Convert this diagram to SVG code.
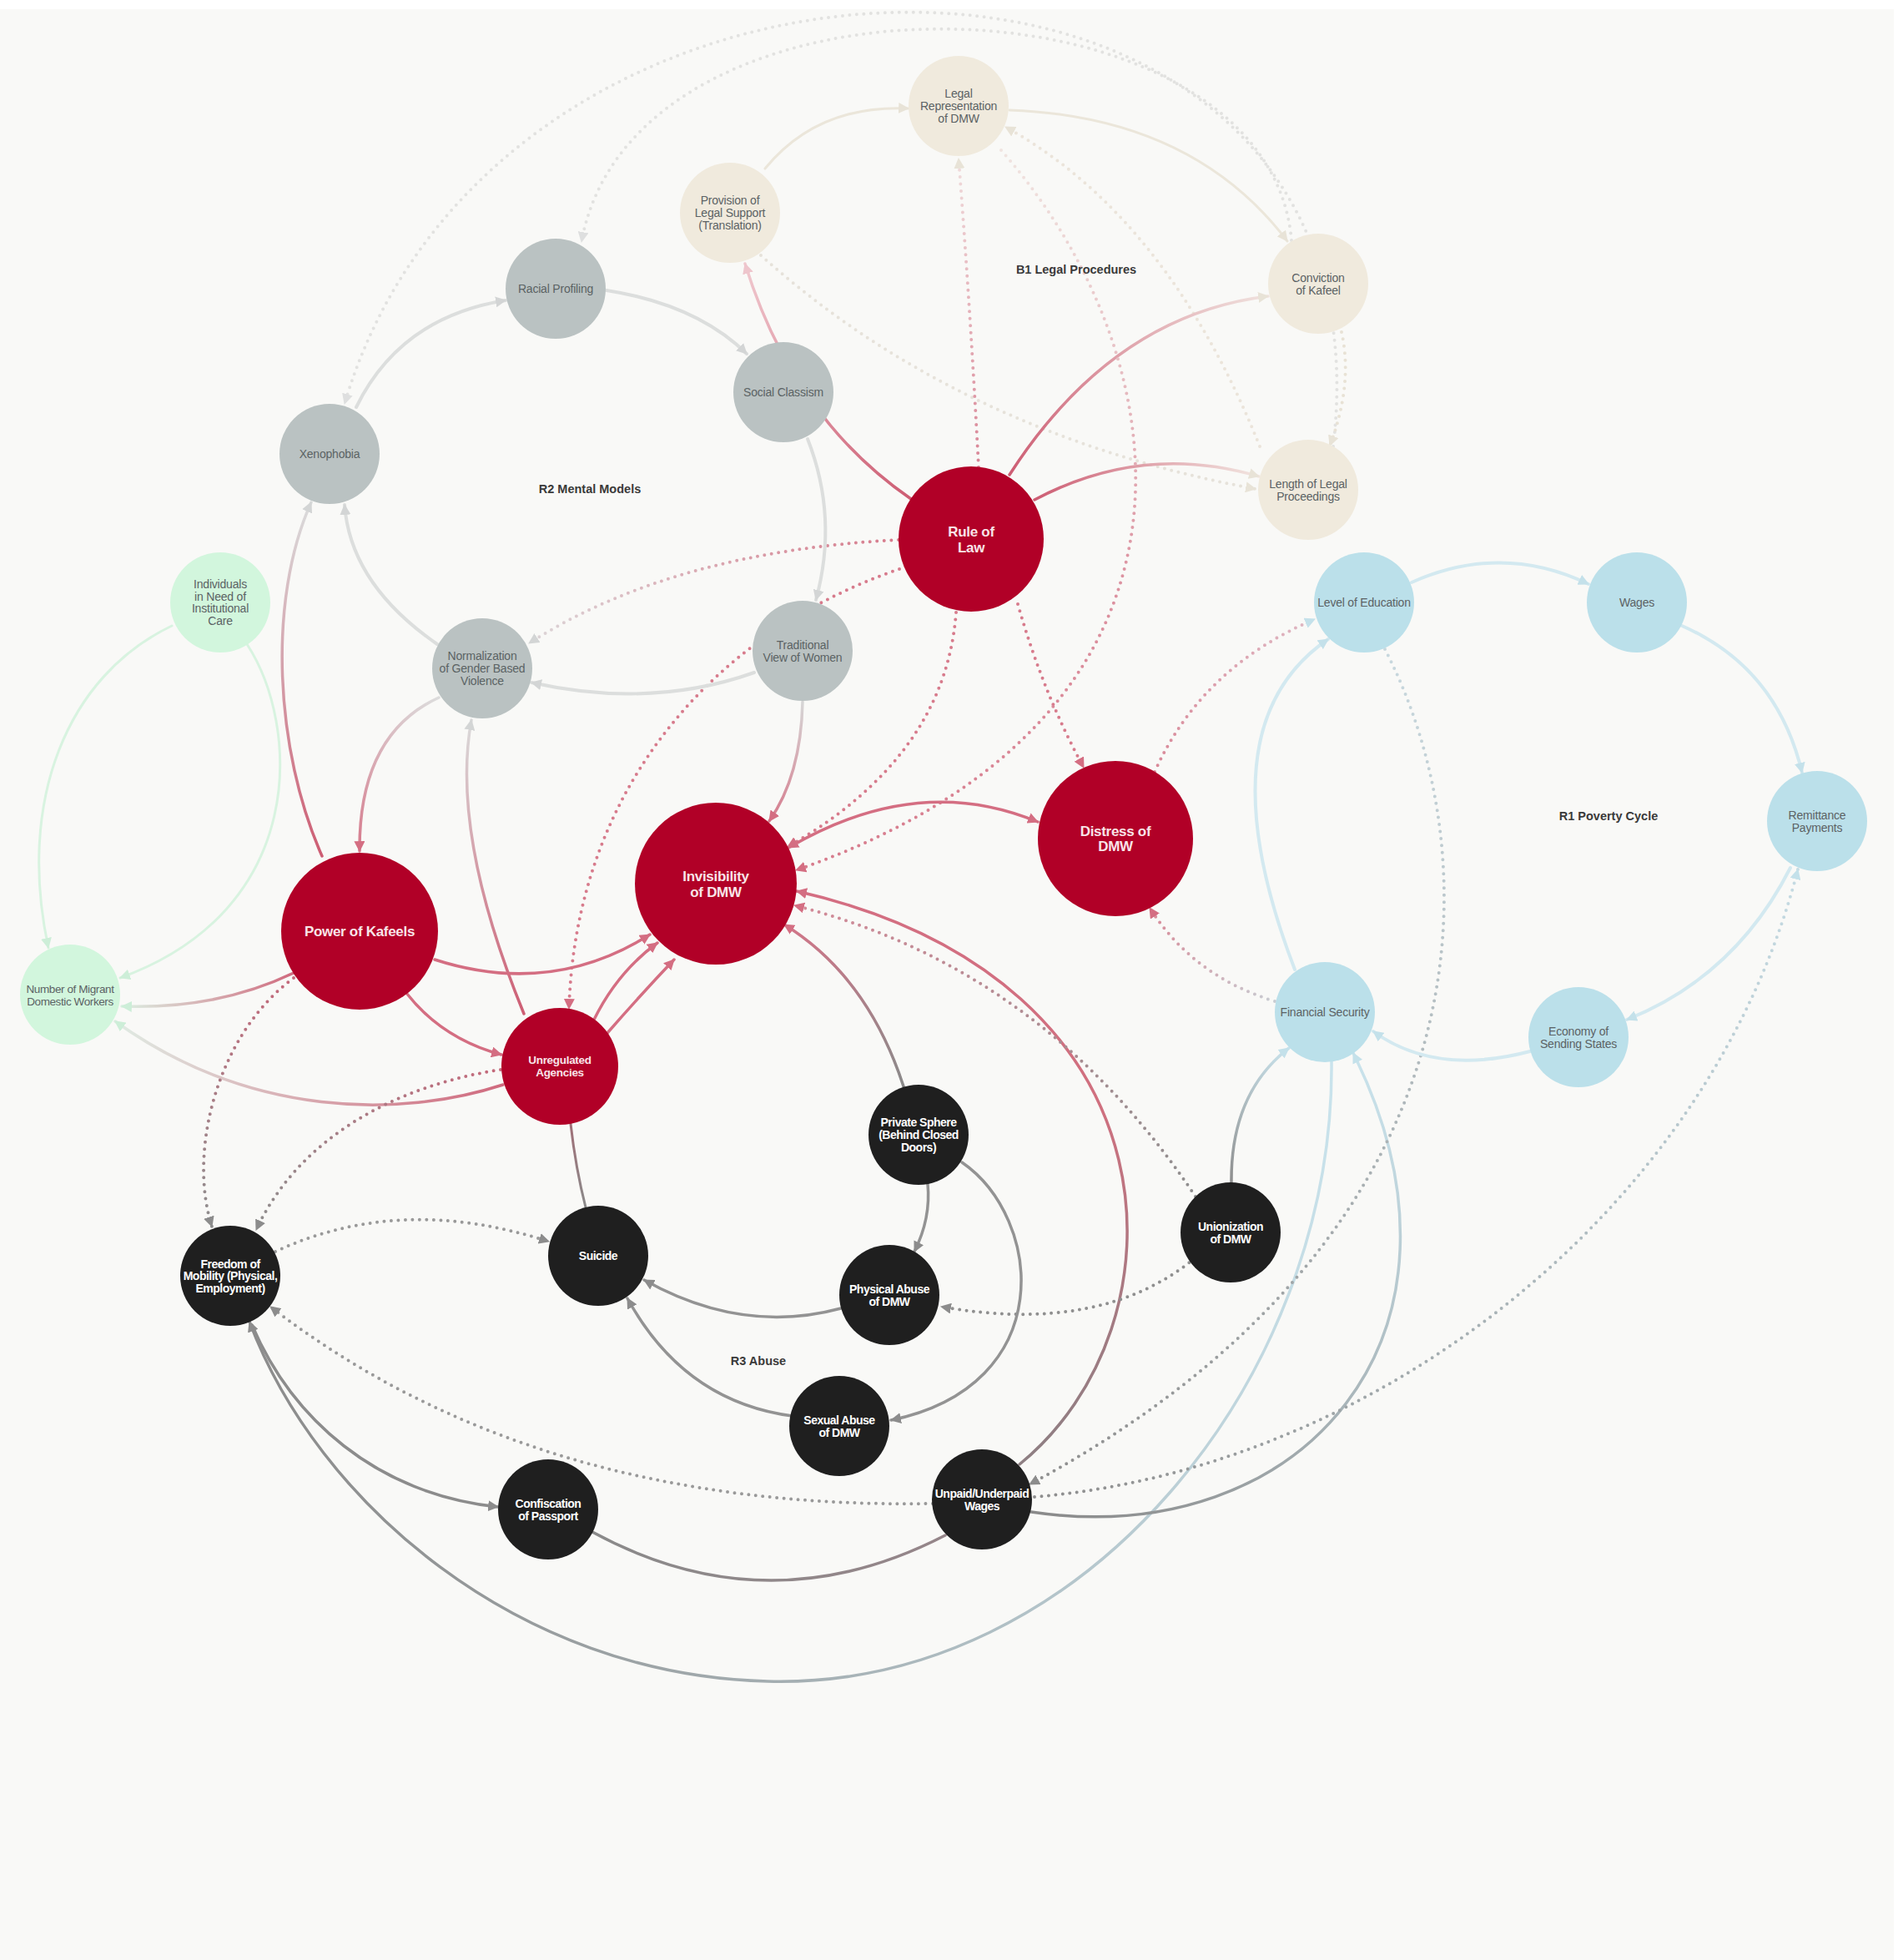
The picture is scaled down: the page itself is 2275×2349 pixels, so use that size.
<svg xmlns="http://www.w3.org/2000/svg" width="2275" height="2349" viewBox="0 0 2275 2349">
<style>
.s{fill:none;stroke-width:3.5;stroke-linecap:round}
.w4{stroke-width:4}
.w3{stroke-width:3}
.d{fill:none;stroke-width:4;stroke-dasharray:0 8.5;stroke-linecap:round}
.red{fill:#b10027}.blk{fill:#1f1f1f}.gry{fill:#bac2c2}.bei{fill:#f0eadd}.blu{fill:#bbe0ea}.grn{fill:#d2f6dd}
text{font-family:"Liberation Sans",Arial,sans-serif;text-anchor:middle}
.ts{font-size:14px;fill:#5b6264;letter-spacing:-0.2px}
.tb{font-size:14px;font-weight:bold;fill:#fff;letter-spacing:-0.5px}
.tr{font-size:17px;font-weight:bold;fill:#f8e4e8;letter-spacing:-0.3px}
.tu{font-size:13.5px;font-weight:bold;fill:#f8e4e8;letter-spacing:-0.3px}
.tl{font-size:14.5px;font-weight:bold;fill:#3a3a3a}
</style>
<defs>
<marker id="mR" viewBox="0 0 12 12" refX="11" refY="6" markerWidth="13" markerHeight="13" markerUnits="userSpaceOnUse" orient="auto"><path d="M0,0 L12,6 L0,12 z" fill="#d46e82"/></marker>
<marker id="mR2" viewBox="0 0 12 12" refX="11" refY="6" markerWidth="13" markerHeight="13" markerUnits="userSpaceOnUse" orient="auto-start-reverse"><path d="M0,0 L12,6 L0,12 z" fill="#d46e82"/></marker>
<marker id="mPk" viewBox="0 0 12 12" refX="11" refY="6" markerWidth="13" markerHeight="13" markerUnits="userSpaceOnUse" orient="auto"><path d="M0,0 L12,6 L0,12 z" fill="#eec5cc"/></marker>
<marker id="mBe" viewBox="0 0 12 12" refX="11" refY="6" markerWidth="13" markerHeight="13" markerUnits="userSpaceOnUse" orient="auto"><path d="M0,0 L12,6 L0,12 z" fill="#e8e3d7"/></marker>
<marker id="mG" viewBox="0 0 12 12" refX="11" refY="6" markerWidth="13" markerHeight="13" markerUnits="userSpaceOnUse" orient="auto"><path d="M0,0 L12,6 L0,12 z" fill="#d3d5d5"/></marker>
<marker id="mGf" viewBox="0 0 12 12" refX="11" refY="6" markerWidth="13" markerHeight="13" markerUnits="userSpaceOnUse" orient="auto"><path d="M0,0 L12,6 L0,12 z" fill="#dedfdf"/></marker>
<marker id="mK" viewBox="0 0 12 12" refX="11" refY="6" markerWidth="13" markerHeight="13" markerUnits="userSpaceOnUse" orient="auto"><path d="M0,0 L12,6 L0,12 z" fill="#8c8c8c"/></marker>
<marker id="mB" viewBox="0 0 12 12" refX="11" refY="6" markerWidth="13" markerHeight="13" markerUnits="userSpaceOnUse" orient="auto"><path d="M0,0 L12,6 L0,12 z" fill="#c4e1ea"/></marker>
<marker id="mGn" viewBox="0 0 12 12" refX="11" refY="6" markerWidth="13" markerHeight="13" markerUnits="userSpaceOnUse" orient="auto"><path d="M0,0 L12,6 L0,12 z" fill="#cdeed8"/></marker>
<linearGradient id="g6" gradientUnits="userSpaceOnUse" x1="1092" y1="598" x2="893" y2="316"><stop offset="0" stop-color="#cd5d73"/><stop offset="1" stop-color="#f0c9cf"/></linearGradient>
<linearGradient id="g7" gradientUnits="userSpaceOnUse" x1="1173" y1="560" x2="1149" y2="190"><stop offset="0" stop-color="#d98596"/><stop offset="1" stop-color="#f0dcdc"/></linearGradient>
<linearGradient id="g8" gradientUnits="userSpaceOnUse" x1="1210" y1="569" x2="1520" y2="355"><stop offset="0" stop-color="#cd5d73"/><stop offset="1" stop-color="#f0e2de"/></linearGradient>
<linearGradient id="g9" gradientUnits="userSpaceOnUse" x1="1240" y1="599" x2="1509" y2="571"><stop offset="0" stop-color="#cd5d73"/><stop offset="1" stop-color="#f2e6e1"/></linearGradient>
<linearGradient id="g10" gradientUnits="userSpaceOnUse" x1="1077" y1="647" x2="634" y2="771"><stop offset="0" stop-color="#d77b8c"/><stop offset="1" stop-color="#dcd6d8"/></linearGradient>
<linearGradient id="g14" gradientUnits="userSpaceOnUse" x1="1200" y1="180" x2="954" y2="1043"><stop offset="0" stop-color="#f0e4e0"/><stop offset="0.5" stop-color="#dc93a1"/><stop offset="1" stop-color="#d77b8c"/></linearGradient>
<linearGradient id="g15" gradientUnits="userSpaceOnUse" x1="1384" y1="925" x2="1576" y2="742"><stop offset="0" stop-color="#d98898"/><stop offset="1" stop-color="#dfb8c3"/></linearGradient>
<linearGradient id="g16" gradientUnits="userSpaceOnUse" x1="1528" y1="1200" x2="1378" y2="1088"><stop offset="0" stop-color="#c8ccd2"/><stop offset="1" stop-color="#d98a98"/></linearGradient>
<linearGradient id="g22" gradientUnits="userSpaceOnUse" x1="386" y1="1026" x2="373" y2="602"><stop offset="0" stop-color="#cd5d73"/><stop offset="1" stop-color="#dadcdc"/></linearGradient>
<linearGradient id="g23" gradientUnits="userSpaceOnUse" x1="526" y1="836" x2="431" y2="1020"><stop offset="0" stop-color="#dcdcdc"/><stop offset="1" stop-color="#d67a8c"/></linearGradient>
<linearGradient id="g24" gradientUnits="userSpaceOnUse" x1="628" y1="1215" x2="565" y2="863"><stop offset="0" stop-color="#cd5d73"/><stop offset="1" stop-color="#dadada"/></linearGradient>
<linearGradient id="g25" gradientUnits="userSpaceOnUse" x1="962" y1="841" x2="922" y2="984"><stop offset="0" stop-color="#d6d6d6"/><stop offset="1" stop-color="#d67a8c"/></linearGradient>
<linearGradient id="g31" gradientUnits="userSpaceOnUse" x1="1222" y1="1755" x2="955" y2="1068"><stop offset="0" stop-color="#8e7f83"/><stop offset="0.5" stop-color="#d0707f"/><stop offset="1" stop-color="#d46e82"/></linearGradient>
<linearGradient id="g32" gradientUnits="userSpaceOnUse" x1="1083" y1="1302" x2="940" y2="1108"><stop offset="0" stop-color="#8a8a8a"/><stop offset="1" stop-color="#d37588"/></linearGradient>
<linearGradient id="g33" gradientUnits="userSpaceOnUse" x1="1433" y1="1434" x2="952" y2="1085"><stop offset="0" stop-color="#8e8e8e"/><stop offset="1" stop-color="#d48a98"/></linearGradient>
<linearGradient id="g34" gradientUnits="userSpaceOnUse" x1="1476" y1="1417" x2="1545" y2="1256"><stop offset="0" stop-color="#8e8e8e"/><stop offset="1" stop-color="#c9e3ec"/></linearGradient>
<linearGradient id="g41" gradientUnits="userSpaceOnUse" x1="684" y1="1347" x2="702" y2="1447"><stop offset="0" stop-color="#a07078"/><stop offset="1" stop-color="#8a8a8a"/></linearGradient>
<linearGradient id="g43" gradientUnits="userSpaceOnUse" x1="1596" y1="1272" x2="299" y2="1584"><stop offset="0" stop-color="#c9e3ec"/><stop offset="1" stop-color="#8c8c8c"/></linearGradient>
<linearGradient id="g44" gradientUnits="userSpaceOnUse" x1="1236" y1="1812" x2="1622" y2="1262"><stop offset="0" stop-color="#8a8a8a"/><stop offset="1" stop-color="#c9e3ec"/></linearGradient>
<linearGradient id="g45" gradientUnits="userSpaceOnUse" x1="710" y1="1836" x2="1133" y2="1840"><stop offset="0" stop-color="#8a8a8a"/><stop offset="1" stop-color="#958589"/></linearGradient>
<linearGradient id="g47" gradientUnits="userSpaceOnUse" x1="1660" y1="778" x2="1234" y2="1779"><stop offset="0" stop-color="#c8d8de"/><stop offset="1" stop-color="#8e8e8e"/></linearGradient>
<linearGradient id="g48" gradientUnits="userSpaceOnUse" x1="1240" y1="1794" x2="2155" y2="1042"><stop offset="0" stop-color="#8e8e8e"/><stop offset="1" stop-color="#c5dbe3"/></linearGradient>
<linearGradient id="g56" gradientUnits="userSpaceOnUse" x1="352" y1="1166" x2="146" y2="1206"><stop offset="0" stop-color="#d06a7e"/><stop offset="1" stop-color="#dcefe2"/></linearGradient>
<linearGradient id="g57" gradientUnits="userSpaceOnUse" x1="603" y1="1300" x2="138" y2="1224"><stop offset="0" stop-color="#d06a7e"/><stop offset="1" stop-color="#e0ece4"/></linearGradient>
<linearGradient id="g58" gradientUnits="userSpaceOnUse" x1="352" y1="1172" x2="254" y2="1470"><stop offset="0" stop-color="#c5697b"/><stop offset="1" stop-color="#8e8e8e"/></linearGradient>
<linearGradient id="g59" gradientUnits="userSpaceOnUse" x1="600" y1="1282" x2="307" y2="1474"><stop offset="0" stop-color="#c5697b"/><stop offset="1" stop-color="#8e8e8e"/></linearGradient>
</defs>
<rect x="0" y="0" width="2275" height="2349" fill="#ffffff"/>
<rect x="0" y="11" width="2270" height="2338" fill="#f9f9f7"/>
<g id="connectors">
<path class="d" stroke="#e2e2e0" d="M1598 535 C1680 -150 600 -150 413 484" marker-end="url(#mGf)"/>
<path class="d" stroke="#e2e2e0" d="M1548 288 C1520 -40 760 -60 697 290" marker-end="url(#mGf)"/>
<path class="s w3" stroke="#ebe6da" d="M917 202 Q980 125 1089 130" marker-end="url(#mBe)"/>
<path class="s w3" stroke="#ebe6da" d="M1210 132 Q1430 140 1543 289" marker-end="url(#mBe)"/>
<path class="d" stroke="#e8e2d5" d="M1608 398 Q1622 460 1594 534" marker-end="url(#mBe)"/>
<path class="d" stroke="#ebe4da" d="M1510 535 Q1400 260 1205 152" marker-end="url(#mBe)"/>
<path class="d" stroke="#e6e2da" d="M912 306 Q1150 520 1505 586" marker-end="url(#mBe)"/>
<path class="s" stroke="url(#g6)" d="M1092 598 Q950 500 893 316" marker-end="url(#mPk)"/>
<path class="d" stroke="url(#g7)" d="M1173 560 Q1163 370 1149 190" marker-end="url(#mBe)"/>
<path class="s" stroke="url(#g8)" d="M1210 569 Q1333 378 1520 355" marker-end="url(#mBe)"/>
<path class="s" stroke="url(#g9)" d="M1240 599 Q1370 530 1509 571" marker-end="url(#mBe)"/>
<path class="d" stroke="url(#g10)" d="M1077 647 Q805 661 634 771" marker-end="url(#mG)"/>
<path class="d" stroke="#d77b8c" d="M1078 682 C850 760 690 950 682 1209" marker-end="url(#mR)"/>
<path class="d" stroke="#d77b8c" d="M1146 734 Q1133 907 944 1015" marker-end="url(#mR)"/>
<path class="d" stroke="#d77b8c" d="M1220 724 Q1250 830 1299 920" marker-end="url(#mR)"/>
<path class="d" stroke="url(#g14)" d="M1200 180 C1420 430 1480 860 954 1043" marker-end="url(#mR)"/>
<path class="d" stroke="url(#g15)" d="M1384 925 Q1440 800 1576 742" marker-end="url(#mB)"/>
<path class="d" stroke="url(#g16)" d="M1528 1200 Q1430 1170 1378 1088" marker-end="url(#mR)"/>
<path class="s w4" stroke="#dcdedd" d="M427 488 Q480 380 606 360" marker-end="url(#mG)"/>
<path class="s w4" stroke="#dcdedd" d="M727 348 Q835 365 895 424" marker-end="url(#mG)"/>
<path class="s w4" stroke="#dcdedd" d="M968 526 Q1005 620 978 719" marker-end="url(#mG)"/>
<path class="s w4" stroke="#dcdedd" d="M904 806 Q780 850 637 818" marker-end="url(#mG)"/>
<path class="s w4" stroke="#dcdedd" d="M524 772 Q420 700 413 605" marker-end="url(#mG)"/>
<path class="s" stroke="url(#g22)" d="M386 1026 C330 900 320 720 373 602" marker-end="url(#mG)"/>
<path class="s" stroke="url(#g23)" d="M526 836 Q430 880 431 1020" marker-end="url(#mR)"/>
<path class="s" stroke="url(#g24)" d="M628 1215 Q540 1000 565 863" marker-end="url(#mG)"/>
<path class="s" stroke="url(#g25)" d="M962 841 Q960 930 922 984" marker-end="url(#mR)"/>
<path class="s" stroke="#d46e82" d="M521 1150 Q660 1195 779 1120" marker-end="url(#mR)"/>
<path class="s" stroke="#d46e82" d="M487 1190 Q530 1245 601 1264" marker-end="url(#mR)"/>
<path class="s" stroke="#d46e82" d="M712 1222 Q740 1165 788 1130" marker-end="url(#mR)"/>
<path class="s" stroke="#d46e82" d="M728 1238 Q770 1190 808 1150" marker-end="url(#mR)"/>
<path class="s" stroke="#d46e82" d="M945 1016 Q1100 925 1244 985" marker-start="url(#mR2)" marker-end="url(#mR2)"/>
<path class="s" stroke="url(#g31)" d="M1222 1755 C1425 1590 1425 1175 955 1068" marker-end="url(#mR)"/>
<path class="s" stroke="url(#g32)" d="M1083 1302 Q1040 1170 940 1108" marker-end="url(#mR)"/>
<path class="d" stroke="url(#g33)" d="M1433 1434 Q1250 1160 952 1085" marker-end="url(#mR)"/>
<path class="s" stroke="url(#g34)" d="M1476 1417 Q1475 1310 1545 1256" marker-end="url(#mB)"/>
<path class="d" stroke="#8f8f8f" d="M1432 1508 Q1320 1600 1128 1566" marker-end="url(#mK)"/>
<path class="s" stroke="#939393" d="M1112 1419 Q1116 1460 1096 1500" marker-end="url(#mK)"/>
<path class="s" stroke="#939393" d="M1153 1393 C1250 1460 1270 1660 1068 1702" marker-end="url(#mK)"/>
<path class="s" stroke="#939393" d="M1008 1568 Q890 1600 772 1534" marker-end="url(#mK)"/>
<path class="s" stroke="#939393" d="M950 1697 Q820 1680 752 1556" marker-end="url(#mK)"/>
<path class="d" stroke="#999999" d="M330 1500 Q480 1430 658 1488" marker-end="url(#mK)"/>
<path class="s w3" stroke="url(#g41)" d="M684 1347 Q690 1400 702 1447"/>
<path class="s" stroke="#8c8c8c" d="M302 1588 C350 1700 450 1790 597 1806" marker-end="url(#mK)"/>
<path class="s" stroke="url(#g43)" d="M1596 1272 C1600 1650 1300 2025 920 2015 C620 2008 380 1800 299 1584" marker-end="url(#mK)"/>
<path class="s" stroke="url(#g44)" d="M1236 1812 C1560 1860 1790 1600 1622 1262" marker-end="url(#mB)"/>
<path class="s" stroke="url(#g45)" d="M710 1836 Q920 1950 1133 1840"/>
<path class="d" stroke="#999999" d="M1118 1802 Q640 1810 324 1566" marker-end="url(#mK)"/>
<path class="d" stroke="url(#g47)" d="M1660 778 C1790 1030 1790 1480 1234 1779" marker-end="url(#mK)"/>
<path class="d" stroke="url(#g48)" d="M1240 1794 C1650 1760 2050 1450 2155 1042" marker-end="url(#mB)"/>
<path class="s w4" stroke="#d3e9f0" d="M1692 698 Q1800 650 1904 700" marker-end="url(#mB)"/>
<path class="s w4" stroke="#d3e9f0" d="M2016 750 Q2130 800 2160 926" marker-end="url(#mB)"/>
<path class="s w4" stroke="#d3e9f0" d="M2146 1040 Q2080 1170 1950 1222" marker-end="url(#mB)"/>
<path class="s w4" stroke="#d3e9f0" d="M1834 1260 Q1720 1290 1646 1236" marker-end="url(#mB)"/>
<path class="s w4" stroke="#d3e9f0" d="M1552 1162 Q1440 870 1592 766" marker-end="url(#mB)"/>
<path class="s w3" stroke="#d8f3e0" d="M206 750 C80 810 20 960 58 1136" marker-end="url(#mGn)"/>
<path class="s w3" stroke="#d8f3e0" d="M296 772 C360 870 370 1090 144 1172" marker-end="url(#mGn)"/>
<path class="s" stroke="url(#g56)" d="M352 1166 Q260 1210 146 1206" marker-end="url(#mGn)"/>
<path class="s" stroke="url(#g57)" d="M603 1300 C480 1340 300 1340 138 1224" marker-end="url(#mGn)"/>
<path class="d" stroke="url(#g58)" d="M352 1172 C260 1240 225 1380 254 1470" marker-end="url(#mK)"/>
<path class="d" stroke="url(#g59)" d="M600 1282 C480 1300 360 1360 307 1474" marker-end="url(#mK)"/>
</g>
<g id="nodes">
<g id="n-legal-rep"><circle class="bei" cx="1149" cy="127" r="60"/><text class="ts"><tspan x="1149" y="117">Legal</tspan><tspan x="1149" y="132">Representation</tspan><tspan x="1149" y="147">of DMW</tspan></text></g>
<g id="n-provision"><circle class="bei" cx="875" cy="255" r="60"/><text class="ts"><tspan x="875" y="245">Provision of</tspan><tspan x="875" y="260">Legal Support</tspan><tspan x="875" y="275">(Translation)</tspan></text></g>
<g id="n-conviction"><circle class="bei" cx="1580" cy="340" r="60"/><text class="ts"><tspan x="1580" y="337.5">Conviction</tspan><tspan x="1580" y="352.5">of Kafeel</tspan></text></g>
<g id="n-length"><circle class="bei" cx="1568" cy="587" r="60"/><text class="ts"><tspan x="1568" y="584.5">Length of Legal</tspan><tspan x="1568" y="599.5">Proceedings</tspan></text></g>
<g id="n-racial"><circle class="gry" cx="666" cy="346" r="60"/><text class="ts" x="666" y="351">Racial Profiling</text></g>
<g id="n-social"><circle class="gry" cx="939" cy="470" r="60"/><text class="ts" x="939" y="475">Social Classism</text></g>
<g id="n-xeno"><circle class="gry" cx="395" cy="544" r="60"/><text class="ts" x="395" y="549">Xenophobia</text></g>
<g id="n-rule"><circle class="red" cx="1164" cy="646" r="87"/><text class="tr"><tspan x="1164" y="642.5">Rule of</tspan><tspan x="1164" y="661.5">Law</tspan></text></g>
<g id="n-traditional"><circle class="gry" cx="962" cy="780" r="60"/><text class="ts"><tspan x="962" y="777.5">Traditional</tspan><tspan x="962" y="792.5">View of Women</tspan></text></g>
<g id="n-normalization"><circle class="gry" cx="578" cy="801" r="60"/><text class="ts"><tspan x="578" y="791">Normalization</tspan><tspan x="578" y="806">of Gender Based</tspan><tspan x="578" y="821">Violence</tspan></text></g>
<g id="n-individuals"><circle class="grn" cx="264" cy="722" r="60"/><text class="ts"><tspan x="264" y="705.3">Individuals</tspan><tspan x="264" y="719.8">in Need of</tspan><tspan x="264" y="734.3">Institutional</tspan><tspan x="264" y="748.8">Care</tspan></text></g>
<g id="n-education"><circle class="blu" cx="1635" cy="722" r="60"/><text class="ts" x="1635" y="727">Level of Education</text></g>
<g id="n-wages"><circle class="blu" cx="1962" cy="722" r="60"/><text class="ts" x="1962" y="727">Wages</text></g>
<g id="n-remittance"><circle class="blu" cx="2178" cy="984" r="60"/><text class="ts"><tspan x="2178" y="981.5">Remittance</tspan><tspan x="2178" y="996.5">Payments</tspan></text></g>
<g id="n-economy"><circle class="blu" cx="1892" cy="1243" r="60"/><text class="ts"><tspan x="1892" y="1240.5">Economy of</tspan><tspan x="1892" y="1255.5">Sending States</tspan></text></g>
<g id="n-financial"><circle class="blu" cx="1588" cy="1213" r="60"/><text class="ts" x="1588" y="1218">Financial Security</text></g>
<g id="n-distress"><circle class="red" cx="1337" cy="1005" r="93"/><text class="tr"><tspan x="1337" y="1002">Distress of</tspan><tspan x="1337" y="1020">DMW</tspan></text></g>
<g id="n-invisibility"><circle class="red" cx="858" cy="1059" r="97"/><text class="tr"><tspan x="858" y="1055.5">Invisibility</tspan><tspan x="858" y="1074.5">of DMW</tspan></text></g>
<g id="n-power"><circle class="red" cx="431" cy="1116" r="94"/><text class="tr" x="431" y="1122">Power of Kafeels</text></g>
<g id="n-number"><circle class="grn" cx="84" cy="1192" r="60"/><text class="ts" style="font-size:13.5px;letter-spacing:-0.4px"><tspan x="84" y="1189.5">Number of Migrant</tspan><tspan x="84" y="1204.5">Domestic Workers</tspan></text></g>
<g id="n-unregulated"><circle class="red" cx="671" cy="1278" r="70"/><text class="tu"><tspan x="671" y="1275">Unregulated</tspan><tspan x="671" y="1290">Agencies</tspan></text></g>
<g id="n-private"><circle class="blk" cx="1101" cy="1360" r="60"/><text class="tb"><tspan x="1101" y="1350">Private Sphere</tspan><tspan x="1101" y="1365">(Behind Closed</tspan><tspan x="1101" y="1380">Doors)</tspan></text></g>
<g id="n-unionization"><circle class="blk" cx="1475" cy="1477" r="60"/><text class="tb"><tspan x="1475" y="1474.5">Unionization</tspan><tspan x="1475" y="1489.5">of DMW</tspan></text></g>
<g id="n-freedom"><circle class="blk" cx="276" cy="1529" r="60"/><text class="tb"><tspan x="276" y="1519.5">Freedom of</tspan><tspan x="276" y="1534">Mobility (Physical,</tspan><tspan x="276" y="1548.5">Employment)</tspan></text></g>
<g id="n-suicide"><circle class="blk" cx="717" cy="1505" r="60"/><text class="tb" x="717" y="1510">Suicide</text></g>
<g id="n-physical"><circle class="blk" cx="1066" cy="1552" r="60"/><text class="tb"><tspan x="1066" y="1549.5">Physical Abuse</tspan><tspan x="1066" y="1564.5">of DMW</tspan></text></g>
<g id="n-sexual"><circle class="blk" cx="1006" cy="1709" r="60"/><text class="tb"><tspan x="1006" y="1706.5">Sexual Abuse</tspan><tspan x="1006" y="1721.5">of DMW</tspan></text></g>
<g id="n-confiscation"><circle class="blk" cx="657" cy="1809" r="60"/><text class="tb"><tspan x="657" y="1806.5">Confiscation</tspan><tspan x="657" y="1821.5">of Passport</tspan></text></g>
<g id="n-unpaid"><circle class="blk" cx="1177" cy="1797" r="60"/><text class="tb"><tspan x="1177" y="1794.5">Unpaid/Underpaid</tspan><tspan x="1177" y="1809.5">Wages</tspan></text></g>
</g>
<g id="loop-labels">
<text class="tl" x="1290" y="328">B1 Legal Procedures</text>
<text class="tl" x="707" y="591">R2 Mental Models</text>
<text class="tl" x="1928" y="983">R1 Poverty Cycle</text>
<text class="tl" x="909" y="1636">R3 Abuse</text>
</g>
</svg>
